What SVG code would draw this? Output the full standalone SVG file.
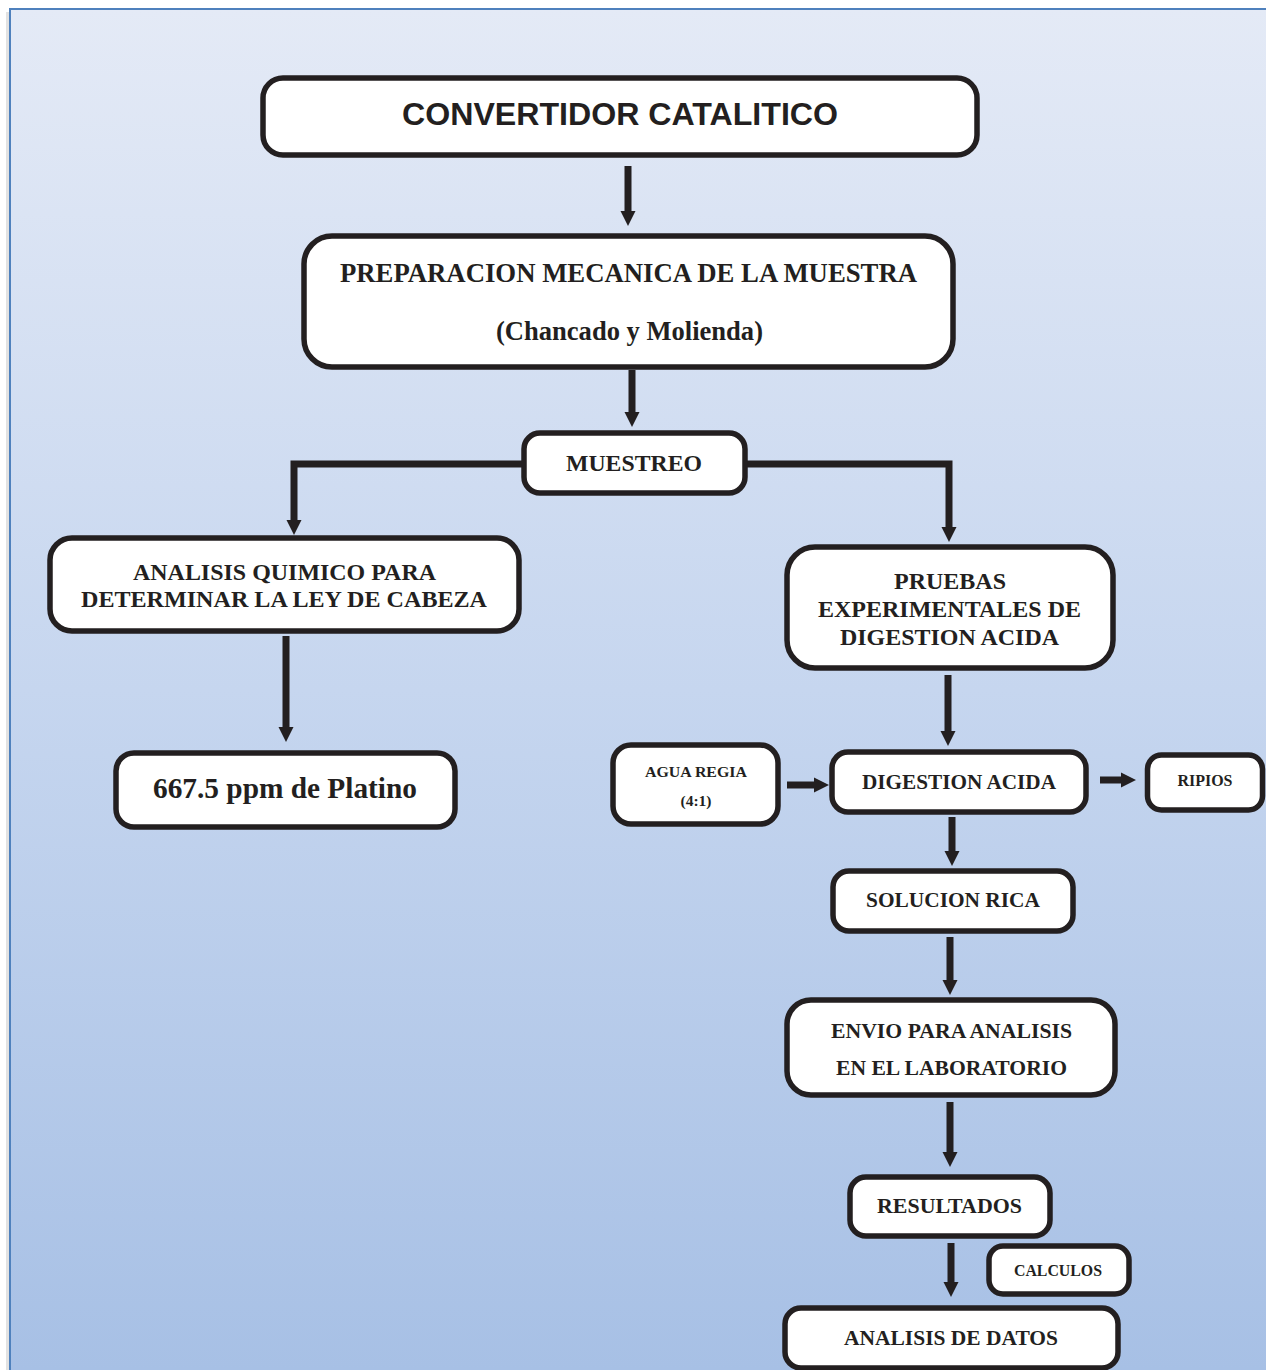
<svg xmlns="http://www.w3.org/2000/svg" width="1266" height="1370" viewBox="0 0 1266 1370">
  <defs>
    <linearGradient id="bg" x1="0" y1="9" x2="0" y2="1370" gradientUnits="userSpaceOnUse">
      <stop offset="0" stop-color="#e4eaf6"/>
      <stop offset="0.5" stop-color="#c6d6ef"/>
      <stop offset="1" stop-color="#a7c0e5"/>
    </linearGradient>
    <marker id="ah" markerUnits="userSpaceOnUse" markerWidth="15" markerHeight="15" refX="0" refY="7.5" orient="auto" overflow="visible">
      <path d="M0,0 L15,7.5 L0,15 Z" fill="#231f20"/>
    </marker>
    <style>
      .box { fill: #ffffff; stroke: #231f20; stroke-width: 5.5; }
      .t { font-family: "Liberation Serif", "Times New Roman", serif; font-weight: bold; fill: #231f20; text-anchor: middle; }
      .title { font-family: "Liberation Sans", Arial, sans-serif; font-weight: bold; fill: #231f20; text-anchor: middle; }
      .c { fill: none; stroke: #231f20; stroke-width: 7; }
      .ca { fill: none; stroke: #231f20; stroke-width: 7; marker-end: url(#ah); }
    </style>
  </defs>

  <rect x="0" y="0" width="1266" height="1370" fill="#ffffff"/>
  <rect x="6" y="12" width="4" height="1358" fill="#e2e2e2"/>
  <rect x="10" y="9" width="1270" height="1375" fill="url(#bg)" stroke="#4f81bd" stroke-width="2"/>

  <g id="connectors">
    <line class="ca" x1="628" y1="166" x2="628" y2="211"/>
    <line class="ca" x1="632" y1="370" x2="632" y2="412"/>
    <path class="ca" d="M524,464 H294 V520"/>
    <path class="ca" d="M745,464 H949 V527"/>
    <line class="ca" x1="286" y1="636" x2="286" y2="727"/>
    <line class="ca" x1="948" y1="675" x2="948" y2="731"/>
    <line class="ca" x1="787" y1="785" x2="814" y2="785"/>
    <line class="ca" x1="1100" y1="780" x2="1121" y2="780"/>
    <line class="ca" x1="952" y1="817" x2="952" y2="851"/>
    <line class="ca" x1="950" y1="937" x2="950" y2="980"/>
    <line class="ca" x1="950" y1="1102" x2="950" y2="1152"/>
    <line class="ca" x1="951" y1="1243" x2="951" y2="1282"/>
  </g>

  <g id="n-convertidor">
    <rect class="box" x="263" y="78" width="714" height="77" rx="20"/>
    <text class="title" x="620" y="125" font-size="32" textLength="436" lengthAdjust="spacingAndGlyphs">CONVERTIDOR CATALITICO</text>
  </g>

  <g id="n-preparacion">
    <rect class="box" x="304" y="236" width="649" height="131" rx="28"/>
    <text class="t" x="628.5" y="282" font-size="26.5" textLength="577" lengthAdjust="spacingAndGlyphs">PREPARACION MECANICA DE LA MUESTRA</text>
    <text class="t" x="629.5" y="340" font-size="26.5" textLength="267" lengthAdjust="spacingAndGlyphs">(Chancado y Molienda)</text>
  </g>

  <g id="n-muestreo">
    <rect class="box" x="524" y="433" width="221" height="60" rx="16"/>
    <text class="t" x="634" y="471" font-size="24" textLength="136" lengthAdjust="spacingAndGlyphs">MUESTREO</text>
  </g>

  <g id="n-analisis-quimico">
    <rect class="box" x="50" y="538" width="469" height="93" rx="22"/>
    <text class="t" x="284.5" y="580" font-size="24" textLength="303" lengthAdjust="spacingAndGlyphs">ANALISIS QUIMICO PARA</text>
    <text class="t" x="284" y="607" font-size="24" textLength="406" lengthAdjust="spacingAndGlyphs">DETERMINAR LA LEY DE CABEZA</text>
  </g>

  <g id="n-platino">
    <rect class="box" x="116" y="753" width="339" height="74" rx="18"/>
    <text class="t" x="285" y="798" font-size="29" textLength="264" lengthAdjust="spacingAndGlyphs">667.5 ppm de Platino</text>
  </g>

  <g id="n-pruebas">
    <rect class="box" x="787" y="547" width="326" height="121" rx="28"/>
    <text class="t" x="950" y="589" font-size="24" textLength="112" lengthAdjust="spacingAndGlyphs">PRUEBAS</text>
    <text class="t" x="949.5" y="617" font-size="24" textLength="263" lengthAdjust="spacingAndGlyphs">EXPERIMENTALES DE</text>
    <text class="t" x="949.5" y="645" font-size="24" textLength="219" lengthAdjust="spacingAndGlyphs">DIGESTION ACIDA</text>
  </g>

  <g id="n-agua-regia">
    <rect class="box" x="613" y="745" width="165" height="79" rx="18"/>
    <text class="t" x="696" y="777" font-size="15.5" textLength="102" lengthAdjust="spacingAndGlyphs">AGUA REGIA</text>
    <text class="t" x="696" y="806" font-size="15.5">(4:1)</text>
  </g>

  <g id="n-digestion">
    <rect class="box" x="832" y="752" width="254" height="60" rx="16"/>
    <text class="t" x="959" y="789" font-size="21" textLength="194" lengthAdjust="spacingAndGlyphs">DIGESTION ACIDA</text>
  </g>

  <g id="n-ripios">
    <rect class="box" x="1147.5" y="755" width="115" height="55" rx="14"/>
    <text class="t" x="1205" y="786" font-size="16" textLength="55" lengthAdjust="spacingAndGlyphs">RIPIOS</text>
  </g>

  <g id="n-solucion">
    <rect class="box" x="833" y="871" width="240" height="60" rx="16"/>
    <text class="t" x="953" y="907" font-size="21" textLength="174" lengthAdjust="spacingAndGlyphs">SOLUCION RICA</text>
  </g>

  <g id="n-envio">
    <rect class="box" x="787" y="1000" width="328" height="95" rx="24"/>
    <text class="t" x="951.5" y="1038" font-size="21" textLength="241" lengthAdjust="spacingAndGlyphs">ENVIO PARA ANALISIS</text>
    <text class="t" x="951.5" y="1075" font-size="21" textLength="231" lengthAdjust="spacingAndGlyphs">EN EL LABORATORIO</text>
  </g>

  <g id="n-resultados">
    <rect class="box" x="850" y="1177" width="200" height="59" rx="16"/>
    <text class="t" x="949.5" y="1213" font-size="21" textLength="145" lengthAdjust="spacingAndGlyphs">RESULTADOS</text>
  </g>

  <g id="n-calculos">
    <rect class="box" x="989" y="1246" width="140" height="48" rx="14"/>
    <text class="t" x="1058" y="1276" font-size="16" textLength="88" lengthAdjust="spacingAndGlyphs">CALCULOS</text>
  </g>

  <g id="n-analisis-datos">
    <rect class="box" x="785" y="1308" width="333" height="60" rx="16"/>
    <text class="t" x="951" y="1345" font-size="21" textLength="214" lengthAdjust="spacingAndGlyphs">ANALISIS DE DATOS</text>
  </g>
</svg>
